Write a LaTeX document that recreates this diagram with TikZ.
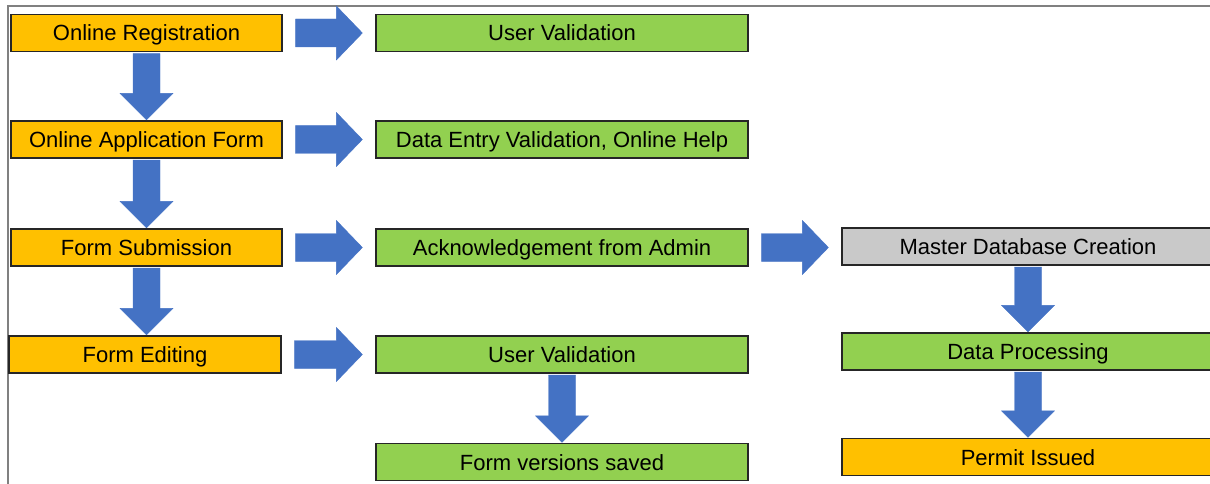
\documentclass[tikz,border=0pt]{standalone}
\usepackage{fontspec}
\setmainfont{Liberation Sans}
\usetikzlibrary{calc}
\definecolor{orng}{HTML}{FFC000}
\definecolor{grn}{HTML}{92D050}
\definecolor{gry}{HTML}{C9C9C9}
\definecolor{blu}{HTML}{4472C4}
\definecolor{frm}{HTML}{808080}
\begin{document}
\begin{tikzpicture}[x=1pt,y=-1pt,
  box/.style={draw=black!85, line width=1.2pt, minimum height=37pt, inner sep=0pt,
    text height=16pt, text depth=0pt,
    font=\fontsize{22}{25}\selectfont, text=black},
  lbox/.style={box, fill=orng, minimum width=271pt},
  mbox/.style={box, fill=grn, minimum width=372pt},
  harrow/.style={fill=blu, draw=blu, line width=0.4pt,
    to path={let \p1=(\tikztostart), \p2=(\tikztotarget) in
      (\x1+13pt,\y1+14pt) -- (\x2-39pt,\y1+14pt) -- (\x2-39pt,\y1+27pt) -- (\x2-13pt,\y1)
      -- (\x2-39pt,\y1-27pt) -- (\x2-39pt,\y1-14pt) -- (\x1+13pt,\y1-14pt) -- cycle}},
  varrow/.style={fill=blu, draw=blu, line width=0.4pt,
    to path={let \p1=(\tikztostart), \p2=(\tikztotarget) in
      (\x1-13.5pt,\y1-1.5pt) -- (\x1+13.5pt,\y1-1.5pt) -- (\x1+13.5pt,\y2+27pt) -- (\x1+26.5pt,\y2+27pt)
      -- (\x1,\y2+0.5pt) -- (\x1-26.5pt,\y2+27pt) -- (\x1-13.5pt,\y2+27pt) -- cycle}}]
\useasboundingbox (0,0) rectangle (1210,484);
\clip (0,0) rectangle (1210,484);
\draw[frm, line width=2pt] (7.5,484) -- (7.5,6) -- (1211,6);

% left column
\node[lbox] (reg) at (146.5,33) {Online Registration};
\node[lbox] (app) at (146.5,139.5) {Online Application Form};
\node[lbox] (sub) at (146.5,247.5) {Form Submission};
\node[lbox, minimum width=272pt] (edit) at (145,354.5) {Form Editing};

% middle column
\node[mbox] (uv1) at (562,33) {User Validation};
\node[mbox] (dev) at (562,139.5) {Data Entry Validation, Online Help};
\node[mbox] (ack) at (562,247.5) {Acknowledgement from Admin};
\node[mbox] (uv2) at (562,354.5) {User Validation};
\node[mbox] (fvs) at (562,462) {Form versions saved};

% right column
\node[box, fill=gry, minimum width=372pt] (mdc) at (1028,246.5) {Master Database Creation};
\node[mbox] (dp) at (1028,351.5) {Data Processing};
\node[box, fill=orng, minimum width=372pt] (pi) at (1028,457) {Permit Issued};

% arrows
\draw[harrow] (reg.east) to (uv1.west);
\draw[harrow] (app.east) to (dev.west);
\draw[harrow] (sub.east) to (ack.west);
\draw[harrow] (edit.east) to (uv2.west);
\draw[harrow] (ack.east) to (mdc.west);

\draw[varrow] (reg.south) to (app.north);
\draw[varrow] (app.south) to (sub.north);
\draw[varrow] (sub.south) to (edit.north);
\draw[varrow] (uv2.south) to (fvs.north);
\draw[varrow] (mdc.south) to (dp.north);
\draw[varrow] (dp.south) to (pi.north);
\end{tikzpicture}
\end{document}
